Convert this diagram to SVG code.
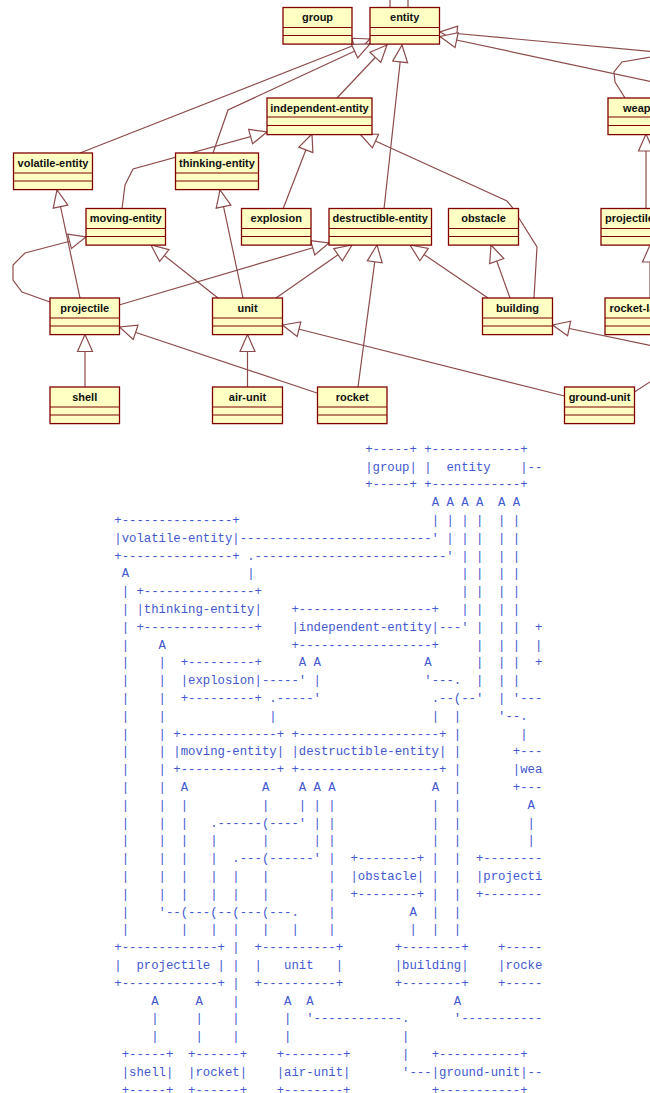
<svg xmlns="http://www.w3.org/2000/svg" width="650" height="1093" viewBox="0 0 650 1093" xml:space="preserve">
<style>
.box{fill:#FFFFC4;stroke:#800000;stroke-width:1.3}
.div{stroke:#800000;stroke-width:1.1}
.t{font-family:"Liberation Sans",Arial,sans-serif;font-weight:bold;font-size:11px;fill:#111;text-anchor:middle}
.ts{font-family:"Liberation Sans",Arial,sans-serif;font-weight:bold;font-size:11px;fill:#111}
.c{fill:none;stroke:#8c4b4b;stroke-width:1.2}
.ca{fill:none;stroke:#8c4b4b;stroke-width:1.2;marker-end:url(#gen)}
.a{font-family:"Liberation Mono","Courier New",monospace;font-size:12.3px;fill:#4258d0;white-space:pre}
</style>
<defs>
<marker id="gen" markerUnits="userSpaceOnUse" markerWidth="20" markerHeight="18" refX="17.5" refY="8" orient="auto" overflow="visible"><path d="M0.5,0.5 L17.5,8 L0.5,15.5 Z" fill="#fff" stroke="#8c4b4b" stroke-width="1.2"/></marker>
</defs>
<rect width="650" height="1093" fill="#fff"/>
<g id="connectors">
<path class="ca" d="M80,153 L370,39"/>
<path class="ca" d="M213,153 L228,110 L370,44"/>
<path class="ca" d="M337,98 L387,45"/>
<path class="ca" d="M384,209 L402,45"/>
<path class="ca" d="M122,209 L125,185 L133,169 L267,132"/>
<path class="ca" d="M283,209 L312,134"/>
<path class="ca" d="M80,298 L57,190"/>
<path class="ca" d="M243,298 L220,190"/>
<path class="ca" d="M218,298 L151,245"/>
<path class="ca" d="M276,298 L352,245"/>
<path class="ca" d="M119,305 L329,243"/>
<path class="ca" d="M50,302 L22,292 L13,280 L13,265 L25,253 L86,237"/>
<path class="ca" d="M85,387 L85,334.5"/>
<path class="ca" d="M247.5,387 L247.5,334.5"/>
<path class="ca" d="M317,393 L119.5,327"/>
<path class="ca" d="M358,387 L377,245"/>
<path class="ca" d="M564.5,396 L282.5,325"/>
<path class="ca" d="M488,298 L410,245"/>
<path class="ca" d="M510,298 L491,245"/>
<path class="ca" d="M534,298 L537,247 L512,207 L507,201 L360,134"/>
<path class="ca" d="M634.5,392 L662,374 L662,348 L552.5,325"/>
<path class="ca" d="M690,55 L440,32"/>
<path class="ca" d="M690,90 L440,36.5"/>
<path class="c" d="M625,98 L615,82 L614,72 L622,62 L690,50"/>
<path class="c" d="M390,0 L390,7.5 M408,0 L408,7.5"/>
<path class="ca" d="M646,208.5 L646,134"/>
<path class="ca" d="M650,298 L650,245"/>
</g>
<g id="node-group"><rect class="box" x="283" y="7.5" width="69" height="36.6"/><path class="div" d="M283,27.5 H352 M283,35.5 H352"/><text class="t" x="317.5" y="21">group</text></g>
<g id="node-entity"><rect class="box" x="370" y="7.5" width="69.5" height="36.6"/><path class="div" d="M370,27.5 H439.5 M370,35.5 H439.5"/><text class="t" x="404.7" y="21">entity</text></g>
<g id="node-independent-entity"><rect class="box" x="267" y="98" width="105" height="36.6"/><path class="div" d="M267,117 H372 M267,125.5 H372"/><text class="t" x="319.5" y="111.5">independent-entity</text></g>
<g id="node-weapon"><rect class="box" x="608" y="98" width="70" height="36.6"/><path class="div" d="M608,117 H678 M608,125.5 H678"/><text class="ts" x="623" y="111.5">weapon</text></g>
<g id="node-volatile-entity"><rect class="box" x="13.5" y="153" width="79" height="36.6"/><path class="div" d="M13.5,173 H92.5 M13.5,181 H92.5"/><text class="t" x="53" y="166.5">volatile-entity</text></g>
<g id="node-thinking-entity"><rect class="box" x="175.5" y="153" width="83" height="36.6"/><path class="div" d="M175.5,173 H258.5 M175.5,181 H258.5"/><text class="t" x="217" y="166.5">thinking-entity</text></g>
<g id="node-moving-entity"><rect class="box" x="86" y="208.5" width="79.5" height="36.6"/><path class="div" d="M86,228.5 H165.5 M86,236.5 H165.5"/><text class="t" x="125.7" y="222">moving-entity</text></g>
<g id="node-explosion"><rect class="box" x="241.5" y="208.5" width="69.5" height="36.6"/><path class="div" d="M241.5,228.5 H311 M241.5,236.5 H311"/><text class="t" x="276.2" y="222">explosion</text></g>
<g id="node-destructible-entity"><rect class="box" x="329" y="208.5" width="102.5" height="36.6"/><path class="div" d="M329,228.5 H431.5 M329,236.5 H431.5"/><text class="t" x="380.2" y="222">destructible-entity</text></g>
<g id="node-obstacle"><rect class="box" x="448.5" y="208.5" width="70" height="36.6"/><path class="div" d="M448.5,228.5 H518.5 M448.5,236.5 H518.5"/><text class="t" x="483.5" y="222">obstacle</text></g>
<g id="node-projectile-launcher"><rect class="box" x="601" y="208.5" width="110" height="36.6"/><path class="div" d="M601,228.5 H711 M601,236.5 H711"/><text class="ts" x="605" y="222">projectile-launcher</text></g>
<g id="node-projectile"><rect class="box" x="50" y="298" width="69.5" height="36.6"/><path class="div" d="M50,318 H119.5 M50,326 H119.5"/><text class="t" x="84.7" y="311.5">projectile</text></g>
<g id="node-unit"><rect class="box" x="212.5" y="298" width="70" height="36.6"/><path class="div" d="M212.5,318 H282.5 M212.5,326 H282.5"/><text class="t" x="247.5" y="311.5">unit</text></g>
<g id="node-building"><rect class="box" x="482.5" y="298" width="70" height="36.6"/><path class="div" d="M482.5,318 H552.5 M482.5,326 H552.5"/><text class="t" x="517.5" y="311.5">building</text></g>
<g id="node-rocket-launcher"><rect class="box" x="605" y="298" width="100" height="36.6"/><path class="div" d="M605,318 H705 M605,326 H705"/><text class="ts" x="609.5" y="311.5">rocket-launcher</text></g>
<g id="node-shell"><rect class="box" x="50" y="387" width="69.5" height="36.6"/><path class="div" d="M50,407 H119.5 M50,415 H119.5"/><text class="t" x="84.7" y="400.5">shell</text></g>
<g id="node-air-unit"><rect class="box" x="212.5" y="387" width="70" height="36.6"/><path class="div" d="M212.5,407 H282.5 M212.5,415 H282.5"/><text class="t" x="247.5" y="400.5">air-unit</text></g>
<g id="node-rocket"><rect class="box" x="317.5" y="387" width="69.5" height="36.6"/><path class="div" d="M317.5,407 H387 M317.5,415 H387"/><text class="t" x="352.2" y="400.5">rocket</text></g>
<g id="node-ground-unit"><rect class="box" x="564.5" y="387" width="70" height="36.6"/><path class="div" d="M564.5,407 H634.5 M564.5,415 H634.5"/><text class="t" x="599.5" y="400.5">ground-unit</text></g>
<g id="ascii-art" class="a">
<text class="a" y="452.7"><tspan x="365.22">+-----+ +------------+</tspan></text>
<text class="a" y="470.5"><tspan x="365.22">|group| |  entity    |--</tspan></text>
<text class="a" y="488.3"><tspan x="365.22">+-----+ +------------+</tspan></text>
<text class="a" y="506.1"><tspan x="431.64">A A A A  A A</tspan></text>
<text class="a" y="523.9"><tspan x="114.3">+---------------+</tspan><tspan x="431.64">| | | |  | |</tspan></text>
<text class="a" y="541.7"><tspan x="114.3">|volatile-entity|--------------------------' | | |  | |</tspan></text>
<text class="a" y="559.5"><tspan x="114.3">+---------------+</tspan><tspan x="247.14">.--------------------------' | |  | |</tspan></text>
<text class="a" y="577.3"><tspan x="121.68">A</tspan><tspan x="247.14">|</tspan><tspan x="461.16">| |  | |</tspan></text>
<text class="a" y="595.1"><tspan x="121.68">| +---------------+</tspan><tspan x="461.16">| |  | |</tspan></text>
<text class="a" y="612.9"><tspan x="121.68">| |thinking-entity|</tspan><tspan x="291.42">+------------------+</tspan><tspan x="461.16">| |  | |</tspan></text>
<text class="a" y="630.7"><tspan x="121.68">| +---------------+</tspan><tspan x="291.42">|independent-entity|---' |  | |  +</tspan></text>
<text class="a" y="648.5"><tspan x="121.68">|    A</tspan><tspan x="291.42">+------------------+</tspan><tspan x="475.92">|  | |  |</tspan></text>
<text class="a" y="666.3"><tspan x="121.68">|    |  +---------+</tspan><tspan x="298.8">A A</tspan><tspan x="424.26">A</tspan><tspan x="475.92">|  | |  +</tspan></text>
<text class="a" y="684.1"><tspan x="121.68">|    |  |explosion|-----' |</tspan><tspan x="424.26">'---.  |  | |</tspan></text>
<text class="a" y="701.9"><tspan x="121.68">|    |  +---------+ .-----'</tspan><tspan x="431.64">.--(--'  | '---</tspan></text>
<text class="a" y="719.7"><tspan x="121.68">|    |</tspan><tspan x="269.28">|</tspan><tspan x="431.64">|  |</tspan><tspan x="498.06">'--.</tspan></text>
<text class="a" y="737.5"><tspan x="121.68">|    | +-------------+ +-------------------+ |</tspan><tspan x="520.2">|</tspan></text>
<text class="a" y="755.3"><tspan x="121.68">|    | |moving-entity| |destructible-entity| |</tspan><tspan x="512.82">+---</tspan></text>
<text class="a" y="773.1"><tspan x="121.68">|    | +-------------+ +-------------------+ |</tspan><tspan x="512.82">|wea</tspan></text>
<text class="a" y="790.9"><tspan x="121.68">|    |  A</tspan><tspan x="261.9">A    A A A</tspan><tspan x="431.64">A  |</tspan><tspan x="512.82">+---</tspan></text>
<text class="a" y="808.7"><tspan x="121.68">|    |  |</tspan><tspan x="261.9">|    | | |</tspan><tspan x="431.64">|  |</tspan><tspan x="527.58">A</tspan></text>
<text class="a" y="826.5"><tspan x="121.68">|    |  |   .------(----' | |</tspan><tspan x="431.64">|  |</tspan><tspan x="527.58">|</tspan></text>
<text class="a" y="844.3"><tspan x="121.68">|    |  |   |      |      | |</tspan><tspan x="431.64">|  |</tspan><tspan x="527.58">|</tspan></text>
<text class="a" y="862.1"><tspan x="121.68">|    |  |   |  .---(------' |  +--------+ |  |  +--------</tspan></text>
<text class="a" y="879.9"><tspan x="121.68">|    |  |   |  |   |</tspan><tspan x="328.32">|  |obstacle| |  |  |projecti</tspan></text>
<text class="a" y="897.7"><tspan x="121.68">|    |  |   |  |   |</tspan><tspan x="328.32">|  +--------+ |  |  +--------</tspan></text>
<text class="a" y="915.5"><tspan x="121.68">|    '--(---(--(---(---.    |</tspan><tspan x="409.5">A  |  |</tspan></text>
<text class="a" y="933.3"><tspan x="121.68">|       |   |  |   |   |    |</tspan><tspan x="409.5">|  |  |</tspan></text>
<text class="a" y="951.1"><tspan x="114.3">+-------------+ |  +----------+</tspan><tspan x="394.74">+--------+    +-----</tspan></text>
<text class="a" y="968.9"><tspan x="114.3">|  projectile | |  |   unit   |</tspan><tspan x="394.74">|building|    |rocke</tspan></text>
<text class="a" y="986.7"><tspan x="114.3">+-------------+ |  +----------+</tspan><tspan x="394.74">+--------+    +-----</tspan></text>
<text class="a" y="1004.5"><tspan x="151.2">A     A    |      A  A</tspan><tspan x="453.78">A</tspan></text>
<text class="a" y="1022.3"><tspan x="151.2">|     |    |      |  '------------.</tspan><tspan x="453.78">'-----------</tspan></text>
<text class="a" y="1040.1"><tspan x="151.2">|     |    |      |</tspan><tspan x="402.12">|</tspan></text>
<text class="a" y="1057.9"><tspan x="121.68">+-----+  +------+    +--------+</tspan><tspan x="402.12">|   +-----------+</tspan></text>
<text class="a" y="1075.7"><tspan x="121.68">|shell|  |rocket|    |air-unit|</tspan><tspan x="402.12">'---|ground-unit|--</tspan></text>
<text class="a" y="1093.5"><tspan x="121.68">+-----+  +------+    +--------+</tspan><tspan x="431.64">+-----------+</tspan></text>
</g>
</svg>
